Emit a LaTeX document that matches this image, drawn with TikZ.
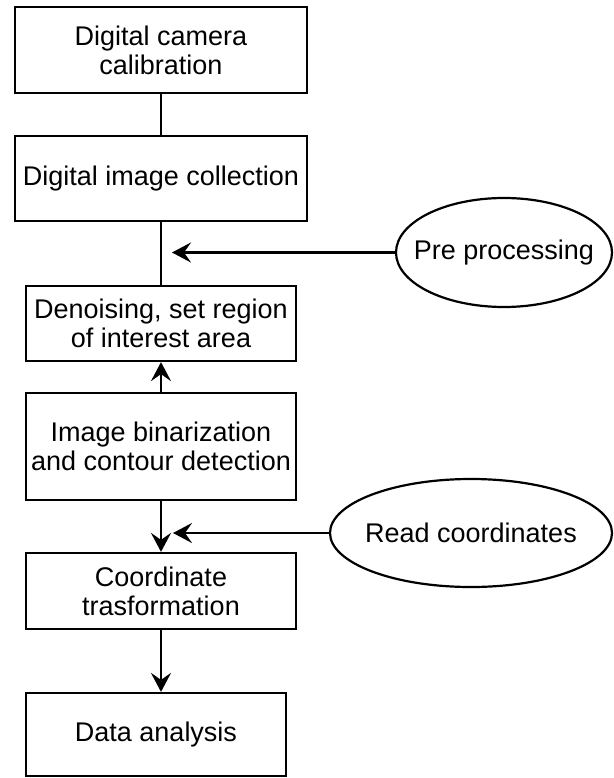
\documentclass[tikz,border=0pt]{standalone}
\usepackage{fontspec}
\setmainfont{Liberation Sans}
\usetikzlibrary{arrows.meta,shapes.geometric}

\begin{document}
\begin{tikzpicture}[x=1pt,y=-1pt,
  every node/.style={font=\fontsize{27}{29}\selectfont, text=black},
  stepbox/.style={draw, line width=2.2pt, rectangle, align=center, inner sep=0pt},
  inputoval/.style={draw, line width=2.2pt, ellipse, inner sep=0pt},
  link/.style={line width=2.4pt},
  arr/.style={line width=2.4pt, -{Stealth[length=19pt,width=20pt,inset=7pt]}}
]
\useasboundingbox (0,0) rectangle (613,778);

% process steps
\node[stepbox, minimum width=292pt, minimum height=86pt] (b1) at (161,50) {Digital camera\\calibration};
\node[stepbox, minimum width=292pt, minimum height=85pt] (b2) at (161,178.5) {Digital image collection};
\node[stepbox, minimum width=270pt, minimum height=75pt] (b3) at (161,323.5) {Denoising, set region\\of interest area};
\node[stepbox, minimum width=270pt, minimum height=107pt] (b4) at (161,446.5) {Image binarization\\and contour detection};
\node[stepbox, minimum width=270pt, minimum height=76pt] (b5) at (161,591) {Coordinate\\trasformation};
\node[stepbox, minimum width=260pt, minimum height=83pt] (b6) at (156,734.5) {Data analysis};

% side inputs (zero-width label box so the oval keeps its set size)
\node[inputoval, minimum width=216pt, minimum height=109pt] (e1) at (504,252.5) {\makebox[0pt]{Pre processing}};
\node[inputoval, minimum width=282pt, minimum height=108pt] (e2) at (471,533) {\makebox[0pt]{Read coordinates}};

\coordinate (pin) at (172,252.5);
\coordinate (rin) at (173,533);

% connectors
\draw[link] (b1.south) -- (b2.north);
\draw[link] (b2.south) -- (b3.north);
\draw[arr] (e1.west) -- (pin);
\draw[arr] (b4.north) -- (b3.south);
\draw[arr] (b4.south) -- (b5.north);
\draw[arr] (e2.west) -- (rin);
\draw[arr] (b5.south) -- (b5.south |- b6.north);
\end{tikzpicture}
\end{document}
